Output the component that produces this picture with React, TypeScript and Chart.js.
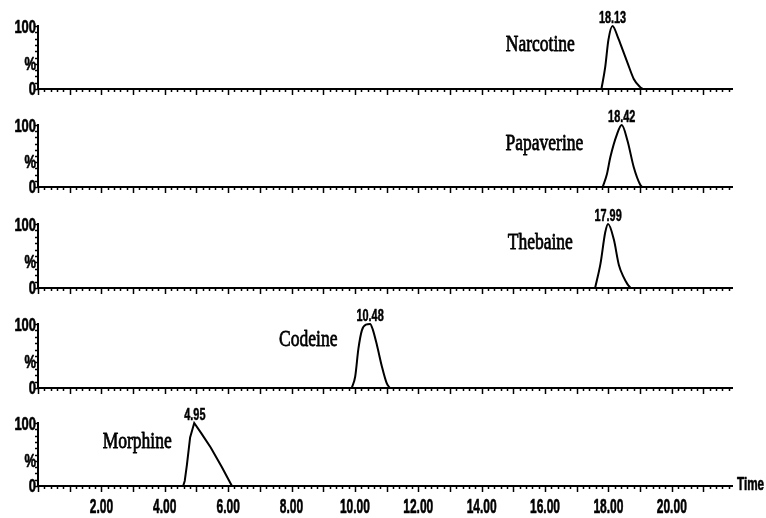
import React, { useEffect, useRef } from 'react';
import { Chart, registerables } from 'chart.js';

Chart.register(...registerables);

// ---------- data ----------
const compounds = ['Narcotine', 'Papaverine', 'Thebaine', 'Codeine', 'Morphine'];
const retentionTimes = [18.13, 18.42, 17.99, 10.48, 4.95];
const retentionLabels = ['18.13', '18.42', '17.99', '10.48', '4.95'];

const narcotineTime = [17.78, 17.9, 18.0, 18.13, 18.3, 18.45, 18.6, 18.8, 19.0, 19.08];
const narcotineSignal = [0, 35, 78, 100, 82, 62, 42, 16, 3, 0];

const papaverineTime = [17.82, 17.95, 18.06, 18.27, 18.42, 18.6, 18.8, 19.0, 19.06];
const papaverineSignal = [0, 20, 48, 85, 100, 75, 32, 4, 0];

const thebaineTime = [17.58, 17.75, 17.9, 17.99, 18.17, 18.33, 18.48, 18.6, 18.7];
const thebaineSignal = [0, 38, 87, 100, 76, 36, 17, 6, 0];

const codeineTime = [9.9, 10.01, 10.11, 10.22, 10.35, 10.48, 10.56, 10.7, 10.85, 11.0, 11.1];
const codeineSignal = [0, 18, 61, 90, 99, 100, 92, 66, 34, 8, 0];

const morphineTime = [4.58, 4.63, 4.7, 4.8, 4.93, 5.15, 5.45, 5.8, 6.12];
const morphineSignal = [0, 8, 34, 77, 100, 84, 61, 30, 0];

const peakTimes = [narcotineTime, papaverineTime, thebaineTime, codeineTime, morphineTime];
const peakSignals = [narcotineSignal, papaverineSignal, thebaineSignal, codeineSignal, morphineSignal];
const smoothPeak = [true, true, true, true, false];

const timeMin = 0;
const timeMax = 21.9;
const minorStep = 0.2;
const xTickValues = [2, 4, 6, 8, 10, 12, 14, 16, 18, 20];
const xTickLabels = ['2.00', '4.00', '6.00', '8.00', '10.00', '12.00', '14.00', '16.00', '18.00', '20.00'];
const yTickValues = [100, 40, 0];
const yTickLabels = ['100', '%', '0'];

// ---------- layout ----------
const W = 766;
const PLOT_LEFT = 38;
const PLOT_RIGHT = 732;
const PAD_TOP = 26;
const panelTops = [26, 125, 224, 324, 423];
const panelBases = [89, 187, 288, 388, 486];
// name label anchors in (minutes, %) of each panel
const nameAnchorX = [15.85, 15.98, 15.85, 8.53, 3.13];
const nameAnchorY = [70, 70, 71, 76, 71];

function drawText(
  ctx: CanvasRenderingContext2D,
  text: string,
  x: number,
  y: number,
  font: string,
  sx: number,
  align: CanvasTextAlign,
  baseline: CanvasTextBaseline,
  stroke: number
) {
  ctx.save();
  ctx.translate(x, y);
  ctx.scale(sx, 1);
  ctx.font = font;
  ctx.textAlign = align;
  ctx.textBaseline = baseline;
  ctx.fillStyle = '#000';
  ctx.fillText(text, 0, 0);
  if (stroke > 0) {
    ctx.strokeStyle = '#000';
    ctx.lineWidth = stroke;
    ctx.lineJoin = 'round';
    ctx.strokeText(text, 0, 0);
  }
  ctx.restore();
}

const SANS = "'Liberation Sans', Arial, sans-serif";
const SERIF = "'Liberation Serif', 'Times New Roman', serif";

function Panel({ index }: { index: number }) {
  const ref = useRef<HTMLCanvasElement | null>(null);
  const top = panelTops[index];
  const base = panelBases[index];
  const plotH = base - top;
  const canvasTop = top - PAD_TOP;
  const isLast = index === compounds.length - 1;
  const H = isLast ? 518 - canvasTop : 100;

  useEffect(() => {
    const canvas = ref.current;
    if (!canvas) return;
    const points = peakTimes[index].map((t, k) => ({ x: t, y: peakSignals[index][k] }));

    const decor = {
      id: 'decor' + index,
      afterDraw(chart: any) {
        const ctx: CanvasRenderingContext2D = chart.ctx;
        const xs = chart.scales.x;
        const ys = chart.scales.y;
        const left = chart.chartArea.left;
        const yb = ys.getPixelForValue(0);
        ctx.save();
        ctx.strokeStyle = '#000';
        ctx.lineWidth = 1.5;
        // x minor / major ticks
        const n = Math.floor((timeMax - timeMin) / minorStep + 1e-9);
        for (let k = 0; k <= n; k++) {
          const v = timeMin + k * minorStep;
          const px = Math.round(xs.getPixelForValue(v)) + 0.5;
          const len = k % 5 === 0 ? 6 : 3;
          ctx.beginPath();
          ctx.moveTo(px, yb);
          ctx.lineTo(px, yb + len);
          ctx.stroke();
        }
        // y ticks
        for (let v = 0; v <= 100; v += 10) {
          const py = Math.round(ys.getPixelForValue(v)) + 0.5;
          ctx.beginPath();
          ctx.moveTo(left - 3, py);
          ctx.lineTo(left, py);
          ctx.stroke();
        }
        ctx.restore();

        // y labels
        yTickValues.forEach((v, k) => {
          const py = ys.getPixelForValue(v);
          const dy = v === 100 ? 2 : 1;
          drawText(ctx, yTickLabels[k], left - 2, py + dy, 'bold 18px ' + SANS, 0.72, 'right', 'middle', 0.6);
        });

        // peak retention label
        const ax = xs.getPixelForValue(retentionTimes[index]);
        const ay = ys.getPixelForValue(100);
        drawText(ctx, retentionLabels[index], ax, ay + 1, 'bold 16px ' + SANS, 0.68, 'center', 'bottom', 0.5);

        // compound name
        const nx = xs.getPixelForValue(nameAnchorX[index]);
        const ny = ys.getPixelForValue(nameAnchorY[index]);
        drawText(ctx, compounds[index], nx, ny, '24px ' + SERIF, 0.73, 'center', 'middle', 0.8);

        if (isLast) {
          xTickValues.forEach((v, k) => {
            const px = xs.getPixelForValue(v);
            drawText(ctx, xTickLabels[k], px, yb + 21, 'bold 20px ' + SANS, 0.6, 'center', 'middle', 0.6);
          });
          drawText(ctx, 'Time', chart.chartArea.right + 5, yb - 1, 'bold 18px ' + SANS, 0.65, 'left', 'middle', 0.6);
        }
      },
    };

    const chart = new Chart(canvas, {
      type: 'line',
      data: {
        datasets: [
          {
            data: points,
            borderColor: '#000',
            borderWidth: 2,
            pointRadius: 0,
            fill: false,
            tension: smoothPeak[index] ? 0.4 : 0,
            cubicInterpolationMode: smoothPeak[index] ? 'monotone' : 'default',
            clip: false as any,
          },
        ],
      },
      options: {
        responsive: false,
        animation: false,
        events: [],
        layout: { padding: { top: PAD_TOP, right: W - PLOT_RIGHT, left: 0, bottom: 0 } },
        plugins: { legend: { display: false }, tooltip: { enabled: false } },
        scales: {
          x: {
            type: 'linear',
            min: timeMin,
            max: timeMax,
            ticks: { display: false },
            grid: { display: false },
            border: { display: true, color: '#000', width: 2 },
            afterFit: (s: any) => {
              s.height = H - PAD_TOP - plotH;
            },
          },
          y: {
            min: 0,
            max: 100,
            ticks: { display: false },
            grid: { display: false },
            border: { display: true, color: '#000', width: 2 },
            afterFit: (s: any) => {
              s.width = PLOT_LEFT;
            },
          },
        },
      } as any,
      plugins: [decor],
    });
    return () => chart.destroy();
  }, []);

  return (
    <canvas
      ref={ref}
      width={W}
      height={H}
      style={{ position: 'absolute', left: 0, top: canvasTop, width: W, height: H }}
    />
  );
}

export default function App() {
  return (
    <div style={{ position: 'absolute', left: 0, top: 0, width: W, height: 518, background: '#fff' }}>
      {compounds.map((c, i) => (
        <Panel key={c} index={i} />
      ))}
    </div>
  );
}
